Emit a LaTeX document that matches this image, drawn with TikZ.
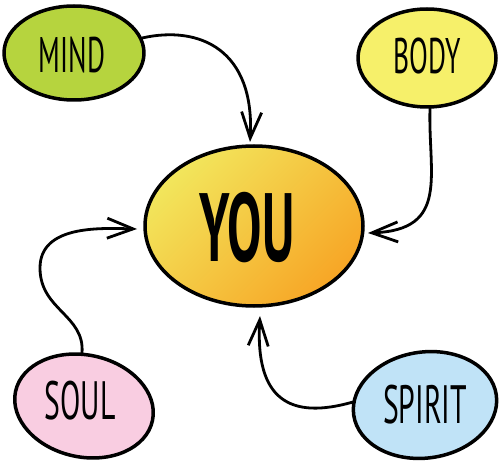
\documentclass[tikz,border=0pt]{standalone}
\usepackage{fontspec}
\newfontfamily\handfont[FakeStretch=0.55]{PT Sans}
\newfontfamily\youfont[FakeStretch=0.53]{PT Sans}
\usetikzlibrary{arrows.meta}
\definecolor{mindgreen}{HTML}{B6D43E}
\definecolor{bodyyellow}{HTML}{F6F06A}
\definecolor{soulpink}{HTML}{F9CDE1}
\definecolor{spiritblue}{HTML}{C0E3F7}
\definecolor{youyellow}{HTML}{F2E65C}
\definecolor{youorange}{HTML}{F7A626}
\begin{document}
\begin{tikzpicture}[x=1pt,y=-1pt,
  blob/.style={line width=3.5pt, line join=round},
  lbl/.style={font=\handfont\fontsize{50}{50}\selectfont, inner sep=0pt},
  conn/.style={line width=2.8pt, line cap=round, -{Straight Barb[length=26pt,width=20pt]}}]
\useasboundingbox (0,0) rectangle (500,462);
% blobs
\draw[blob, fill=mindgreen] (74,53) ellipse [x radius=70, y radius=47];
\draw[blob, fill=bodyyellow] (427,58) ellipse [x radius=69, y radius=49];
\draw[blob, top color=youyellow, bottom color=youorange, shading angle=45] (254,226) ellipse [x radius=109, y radius=80];
\draw[blob, fill=soulpink] (84,406) ellipse [x radius=70, y radius=51, rotate=-12];
\draw[blob, fill=spiritblue] (425,405) ellipse [x radius=72, y radius=53, rotate=8];
% labels
\node[lbl] (mind) at (72,55) {MIND};
\node[lbl] (body) at (427,56) {BODY};
\node[lbl, font=\handfont\fontsize{54}{54}\selectfont] (soul) at (80,401) {SOUL};
\node[lbl, font=\handfont\fontsize{54}{54}\selectfont] (spirit) at (425,405) {SPIRIT};
\node[inner sep=0pt, font=\youfont\bfseries\fontsize{97}{97}\selectfont] (you) at (247,228) {YOU};
% connector ends
\coordinate (mindout) at (142,38);
\coordinate (bodyout) at (430,108);
\coordinate (soulout) at (82,353);
\coordinate (spiritout) at (353,402);
\coordinate (youtop) at (250,142);
\coordinate (youright) at (368,233);
\coordinate (youleft) at (137,229);
\coordinate (youbottom) at (260,316);
\coordinate (soulmid) at (40,268);
% connectors
\draw[conn] (mindout) .. controls (200,25) and (255,50) .. (youtop);
\draw[conn] (bodyout) .. controls (428,175) and (450,230) .. (youright);
\draw[conn] (soulout) .. controls (85,315) and (40,310) .. (soulmid) .. controls (40,225) and (100,228) .. (youleft);
\draw[conn] (spiritout) .. controls (290,420) and (255,400) .. (youbottom);
\end{tikzpicture}
\end{document}
